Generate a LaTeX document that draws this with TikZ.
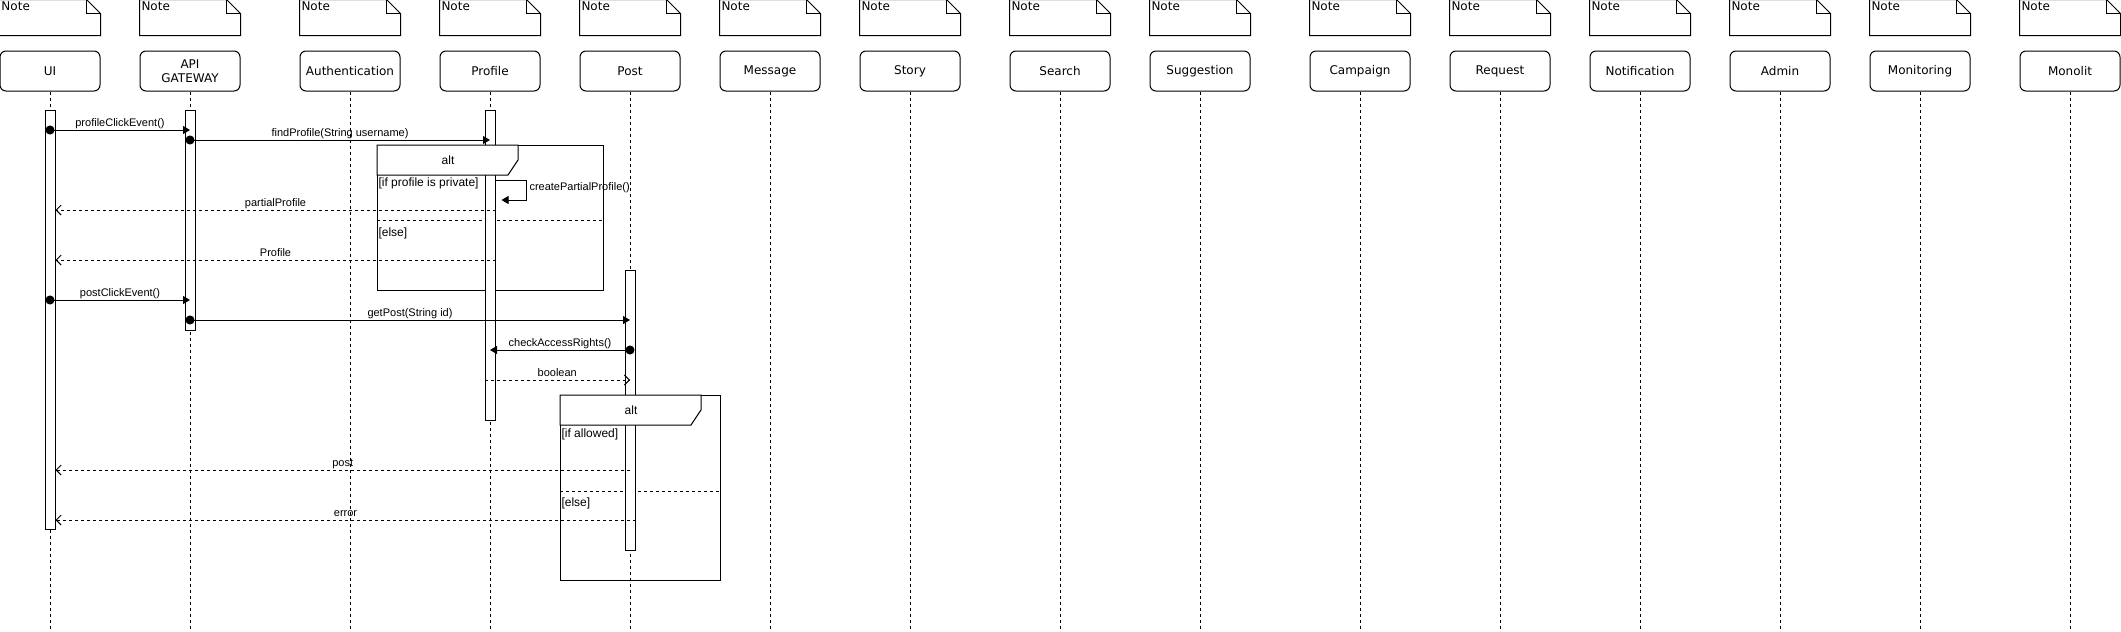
\documentclass[tikz,border=0pt]{standalone}
\usepackage{fontspec}
\setmainfont{Liberation Sans}
\newfontfamily\dejavu{DejaVu Sans}
\usepackage{tikz}
\usetikzlibrary{
	positioning,    % posizione relativa (note / partecipanti)
	arrows.meta,    % punte di freccia
	calc            % coordinate calcolate
}

\begin{document}
\begin{tikzpicture}[x=1pt, y=-1pt, line width=1pt,
		participant/.style={draw, rounded corners=6pt, minimum width=100pt, minimum height=40pt, align=center, inner sep=2pt, font=\dejavu\fontsize{12}{14}\selectfont},
		notebox/.style={minimum width=100pt, minimum height=35pt, inner sep=0pt},
		lifeline/.style={line width=0.8pt, dash pattern=on 3pt off 3pt},
		actbar/.style={draw, fill=white, minimum width=10pt, inner sep=0pt, anchor=north},
		altframe/.style={draw, inner sep=0pt, anchor=north west},
		syncmsg/.style={{Circle[length=9pt]}-{Triangle[length=7pt,width=8pt]}, shorten <=-4.5pt},
		replymsg/.style={dash pattern=on 3pt off 3pt, -{Straight Barb[length=5pt,width=10pt]}},
		msglabel/.style={above, inner sep=1pt, text height=8pt, text depth=2.5pt, font=\fontsize{11}{13}\selectfont},
		guard/.style={anchor=north west, inner sep=1pt, font=\fontsize{12}{14}\selectfont}
	]
	% Definizioni
	\def\bottom{632}
	\def\tabw{141}
	
	\path[use as bounding box, fill=white] (0,0) rectangle (2121,\bottom);
	
	% --- Note e partecipanti ---
	\foreach \name/\xx/\txt in {ui/50/UI, api/190/{API\\GATEWAY}, auth/350/Authentication, profile/490/Profile, post/630/Post, message/770/Message, story/910/Story, search/1060/Search, suggestion/1200/Suggestion, campaign/1360/Campaign, request/1500/Request, notification/1640/Notification, admin/1780/Admin, monitoring/1920/Monitoring, monolit/2070/Monolit}{
		\node[notebox, label={[anchor=north west, inner sep=1.5pt, font=\dejavu\fontsize{12}{14}\selectfont]north west:Note}] (\name-note) at (\xx,17.5) {};
		\draw (\name-note.south west) -- (\name-note.north west) -- ($(\name-note.north east)+(-14,0)$) -- ($(\name-note.north east)+(0,14)$) -- (\name-note.south east) -- cycle;
		\draw ($(\name-note.north east)+(-14,0)$) |- ($(\name-note.north east)+(0,14)$);
		\node[participant, below=15pt of \name-note] (\name) {\txt};
		% linea di vita
		\draw[lifeline] (\name.south) -- (\name |- 0,\bottom);
	}
	
	% --- Frammenti alt ---
	\node[altframe, minimum width=226pt, minimum height=145pt] (alt1) at (377,145) {};
	\draw[dash pattern=on 3pt off 3pt] (alt1.west |- 0,220) -- (alt1.east |- 0,220);
	\node[guard] (alt1-if) at ($(alt1.north west)+(0,31)$) {[if profile is private]};
	\node[guard] (alt1-else) at (alt1.west |- 0,226) {[else]};
	
	\node[altframe, minimum width=160pt, minimum height=185pt] (alt2) at (560,395) {};
	\draw[dash pattern=on 3pt off 3pt] (alt2.west |- 0,491) -- (alt2.east |- 0,491);
	\node[guard] (alt2-if) at ($(alt2.north west)+(0,32)$) {[if allowed]};
	\node[guard] (alt2-else) at (alt2.west |- 0,496) {[else]};
	
	% --- Barre di attivazione ---
	\node[actbar, minimum height=419pt] (uibar) at (ui |- 0,110) {};
	\node[actbar, minimum height=220pt] (apibar) at (api |- 0,110) {};
	\node[actbar, minimum height=310pt] (profilebar) at (profile |- 0,110) {};
	\node[actbar, minimum height=280pt] (postbar) at (post |- 0,270) {};
	
	% --- Linguette dei frammenti (sopra le barre) ---
	\foreach \frm in {alt1, alt2}{
		\draw[fill=white] (\frm.north west) -- ++(\tabw,0) -- ++(0,15) -- ++(-10,15) -- ++(-\tabw+10,0) -- cycle;
		\node[font=\fontsize{12}{14}\selectfont] (\frm-tag) at ($(\frm.north west)+(71,15)$) {alt};
	}
	
	% --- Messaggi ---
	\draw[syncmsg] (ui |- 0,130) -- (api |- 0,130) node[msglabel, midway] (m-click) {profileClickEvent()};
	\draw[syncmsg] (api |- 0,140) -- (profile |- 0,140) node[msglabel, midway] (m-find) {findProfile(String username)};
	% chiamata su se stesso
	\draw[-{Triangle[length=7pt,width=8pt]}] (profilebar.east |- 0,180) -- ++(31,0) -- ++(0,20) -- ($(profilebar.east |- 0,200)+(6,0)$);
	\node[anchor=west, inner sep=1pt, font=\fontsize{11}{13}\selectfont] (m-self) at (528,188) {createPartialProfile()};
	\draw[replymsg] (profilebar.east |- 0,210) -- (uibar.east |- 0,210) node[msglabel, midway] (r-partial) {partialProfile};
	\draw[replymsg] (profilebar.east |- 0,260) -- (uibar.east |- 0,260) node[msglabel, midway] (r-profile) {Profile};
	\draw[syncmsg] (ui |- 0,300) -- (api |- 0,300) node[msglabel, midway] (m-postclick) {postClickEvent()};
	\draw[syncmsg] (api |- 0,320) -- (post |- 0,320) node[msglabel, midway] (m-get) {getPost(String id)};
	\draw[syncmsg] (post |- 0,350) -- (profile |- 0,350) node[msglabel, midway] (m-check) {checkAccessRights()};
	\draw[replymsg] (profilebar.west |- 0,380) -- (post |- 0,380) node[msglabel, midway] (r-bool) {boolean};
	\draw[replymsg] (post |- 0,470) -- (uibar.east |- 0,470) node[msglabel, midway] (r-post) {post};
	\draw[replymsg] (postbar.east |- 0,520) -- (uibar.east |- 0,520) node[msglabel, midway] (r-error) {error};
\end{tikzpicture}
\end{document}
